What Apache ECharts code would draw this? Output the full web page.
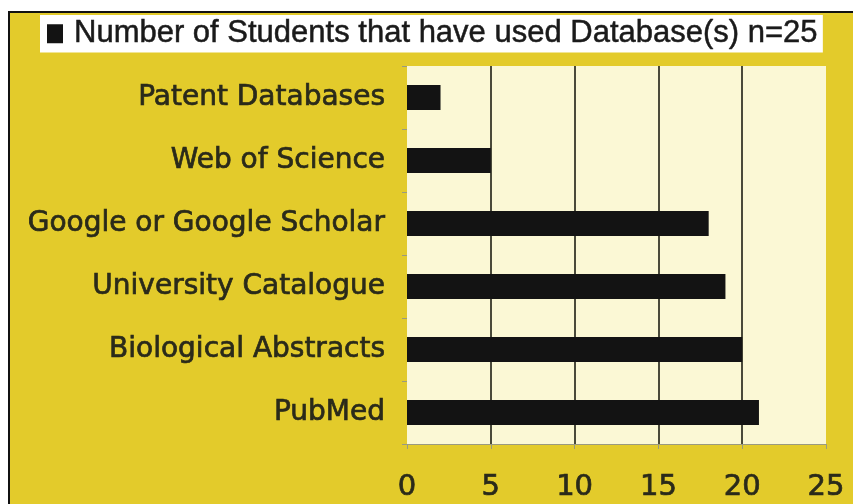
<!DOCTYPE html>
<html>
<head>
<meta charset="utf-8">
<script src="https://cdn.jsdelivr.net/npm/echarts@6/dist/echarts.min.js"></script>
<style>
  html, body { margin: 0; padding: 0; background: #fff; }
  #main { width: 853px; height: 504px; }
</style>
</head>
<body>
<div id="main"></div>
<script>
var categories = ["Patent Databases", "Web of Science", "Google or Google Scholar",
  "University Catalogue", "Biological Abstracts", "PubMed"];
var students = [2, 5, 18, 19, 20, 21];
var seriesName = "Number of Students that have used Database(s) n=25";

// slightly heavier text, the scan's type is between regular and bold
var heavy = { textBorderColor: "#2a2a1a", textBorderWidth: 0.7 };

var chart = echarts.init(document.getElementById("main"));
var option = {
  backgroundColor: "#ffffff",
  animation: false,
  // yellow panel with the black frame (only top/left edges show)
  graphic: [{
    type: "rect",
    z: -100,
    shape: { x: 9, y: 12, width: 900, height: 600 },
    style: { fill: "#e3cb2b", stroke: "#111", lineWidth: 2 }
  }],
  legend: {
    data: [seriesName],
    left: 40,
    top: 15,
    padding: [3, 5, 3, 7],
    backgroundColor: "#ffffff",
    icon: "rect",
    itemWidth: 16,
    itemHeight: 19,
    textStyle: {
      fontFamily: "Liberation Sans", fontSize: 31, color: "#1a1a1a",
      textBorderColor: "#1a1a1a", textBorderWidth: 0.5,
      padding: [0, 0, 0, 6]
    }
  },
  grid: { left: 407, right: 27, top: 66, bottom: 60, show: true,
    backgroundColor: "#fbf8d5", borderWidth: 0 },
  xAxis: {
    type: "value",
    min: 0, max: 25, interval: 5,
    axisLine: { show: true, lineStyle: { color: "#9a9a80", width: 1 } },
    axisTick: { show: true, length: 5, lineStyle: { color: "#9a9a80" } },
    axisLabel: Object.assign({ margin: 29, fontFamily: "DejaVu Sans", fontSize: 29,
      color: "#2a2a1a" }, heavy),
    // lines at 5..20 only, 0 and 25 are the plot edges
    splitLine: { show: true, lineStyle: {
      color: ["transparent", "#4a4a3a", "#4a4a3a", "#4a4a3a", "#4a4a3a", "transparent"],
      width: 2 } }
  },
  yAxis: {
    type: "category",
    inverse: true,
    data: categories,
    axisLine: { show: false },
    axisTick: { show: true, length: 5, lineStyle: { color: "#9a9a80" } },
    axisLabel: Object.assign({ margin: 22, fontFamily: "DejaVu Sans", fontSize: 28,
      color: "#2a2a1a" }, heavy),
    splitLine: { show: false }
  },
  series: [{
    name: seriesName,
    type: "bar",
    data: students,
    barWidth: 25,
    itemStyle: { color: "#131313" }
  }]
};
chart.setOption(option);
</script>
</body>
</html>
